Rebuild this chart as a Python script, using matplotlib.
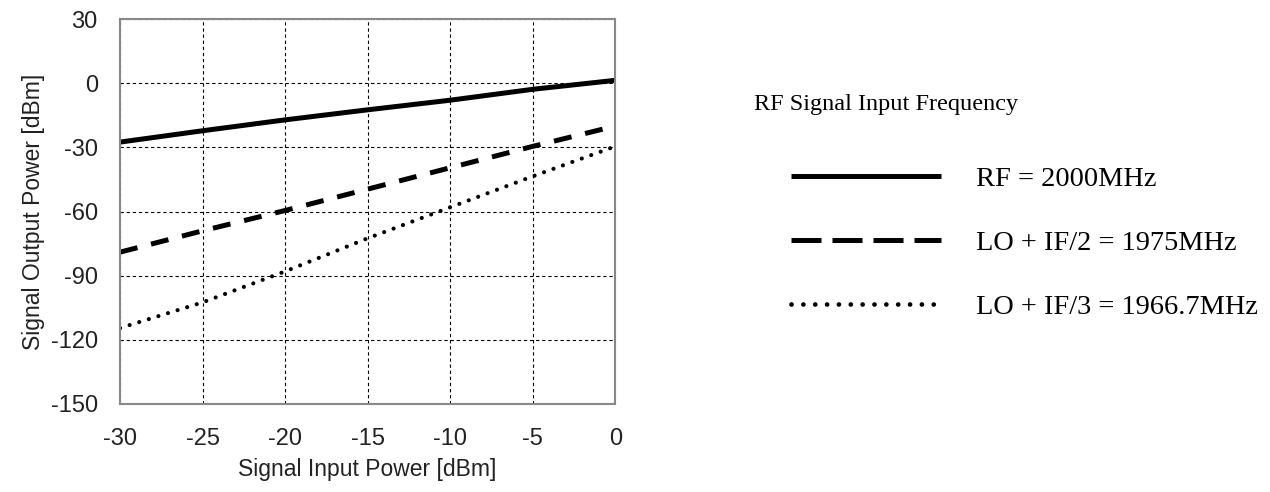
import numpy as np
import matplotlib
matplotlib.use('Agg')
import matplotlib.pyplot as plt
from matplotlib.lines import Line2D

plt.rcParams['font.family'] = ['Liberation Sans', 'DejaVu Sans']
plt.rcParams['axes.unicode_minus'] = False

# values
pin = [-30, -25, -20, -15, -10, -5, 0]
rf_2000 = [-27.5, -22.2, -17.1, -12.4, -7.9, -2.8, 1.4]
lo_if2 = [-79, -69, -59.5, -49.5, -39.5, -29.5, -20]
lo_if3 = [-114.5, -102.5, -88, -72.5, -58, -43.5, -29.5]

labels = ['RF = 2000MHz', 'LO + IF/2 = 1975MHz', 'LO + IF/3 = 1966.7MHz']
xticks = [-30, -25, -20, -15, -10, -5, 0]
yticks = [-150, -120, -90, -60, -30, 0, 30]

fig = plt.figure(figsize=(12.7, 4.92), dpi=100)
ax = fig.add_axes([0.0945, 0.179, 0.390, 0.782])

ax.plot(pin, rf_2000, color='black', lw=3.6, solid_capstyle='butt')
ax.plot(pin, lo_if2, color='black', lw=3.6, linestyle=(0, (3.6, 2.8)), dash_capstyle='butt')
ax.plot(pin, lo_if3, color='black', lw=3.0, linestyle=(0, (0.01, 2.4)), dash_capstyle='round')

ax.set(xlim=(-30, 0), ylim=(-150, 30))
ax.set_xticks(xticks)
ax.set_yticks(yticks)
ax.tick_params(length=0, labelsize=17, colors='#222222')
ax.tick_params(axis='x', pad=17)
ax.tick_params(axis='y', pad=16)
ax.grid(True, color='black', linestyle=(0, (3, 2.5)), lw=0.8)
for s in ax.spines.values():
    s.set_color('#888888')
    s.set_linewidth(1.5)
ax.set_xlabel('Signal Input Power [dBm]', fontsize=16.5, labelpad=6, color='#222222')
ax.set_ylabel('Signal Output Power [dBm]', fontsize=16.5, labelpad=4, color='#222222')

# legend keys drawn as in the reference
h1 = Line2D([], [], color='black', lw=3.6, solid_capstyle='butt')
h2 = Line2D([], [], color='black', lw=3.6, linestyle=(0, (6, 2.2)), dash_capstyle='butt')
h3 = Line2D([], [], color='black', lw=3.4, linestyle=(0, (0.01, 2.5)), dash_capstyle='round')

fig.text(0.594, 0.787, 'RF Signal Input Frequency', family='Liberation Serif',
         fontsize=17.5, va='center', ha='left')
fig.legend([h1, h2, h3], labels, loc='upper left', bbox_to_anchor=(0.603, 0.715),
           frameon=False, prop={'family': 'Liberation Serif', 'size': 20.4},
           handlelength=5.3, handletextpad=1.23, labelspacing=1.35)

fig.savefig('out.png', dpi=100)
